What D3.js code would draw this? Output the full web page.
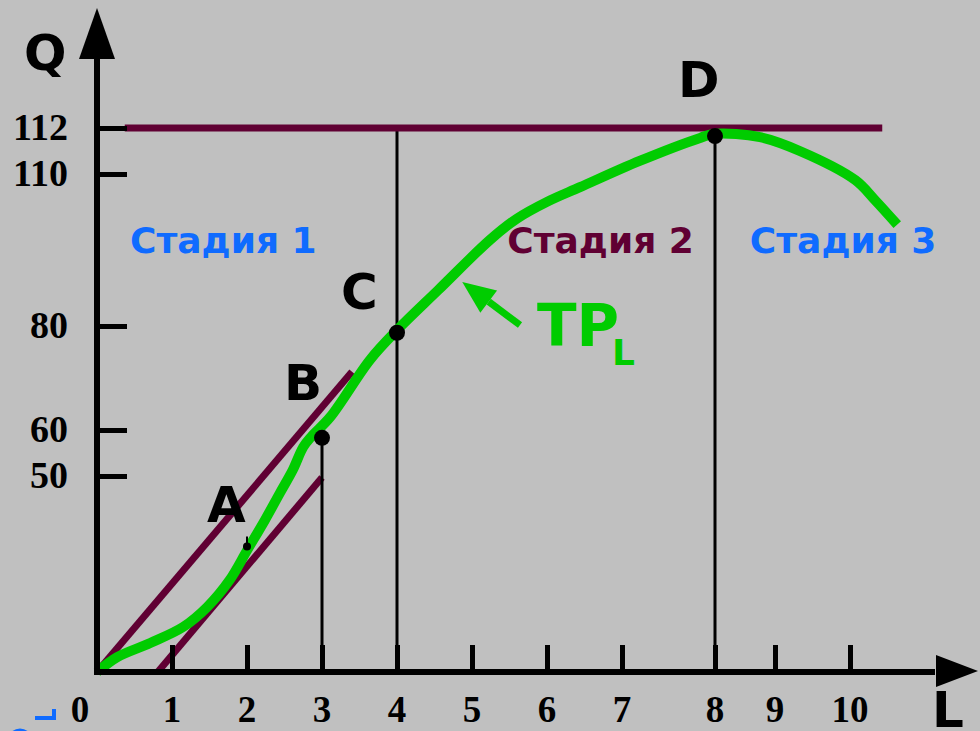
<!DOCTYPE html>
<html>
<head>
<meta charset="utf-8">
<script src="https://cdn.jsdelivr.net/npm/d3@7"></script>
<style>
  html, body { margin: 0; padding: 0; background: #c0c0c0; }
  svg { display: block; }
</style>
</head>
<body>
<div id="chart"></div>
<script>
// data
const xTicks = [0, 1, 2, 3, 4, 5, 6, 7, 8, 9, 10];
const yTicks = [50, 60, 80, 110, 112];
// total product curve TP_L (L, Q)
const tpL = [0, 0.27, 0.71, 1.15, 1.47, 1.77, 2, 2.24, 2.44, 2.61, 2.75, 2.86, 3.11, 3.64, 4, 4.55, 5.24, 5.6, 6.0, 6.44, 7.19, 7.84, 8, 8.75, 9.33, 10.07, 10.33, 10.63];
const tpQ = [0, 3.8, 7.4, 11.5, 16.6, 23.5, 31, 38.8, 45.7, 51.3, 56.3, 58.6, 62.5, 73.5, 79.2, 87.1, 97, 101.2, 104.5, 107.4, 110.57, 111.57, 111.75, 111.6, 111, 108.8, 104.9, 100];
const points = [
  { name: 'A', L: 2, Q: 32, r: 4 },
  { name: 'B', L: 3, Q: 58.3, r: 8 },
  { name: 'C', L: 4, Q: 78.7, r: 8 },
  { name: 'D', L: 8, Q: 111.65, r: 8 }
];
const tangents = [
  [[0, 0], [3.4, 71.2]],
  [[0.81, 0], [3, 49.6]]
];
const maxLine = { Q: 112, from: 0.37, to: 10.43 };
const dropLines = [
  { L: 3, Q: 58.3 },
  { L: 4, Q: 112 },
  { L: 8, Q: 112 }
];
const stages = [
  { text: 'Стадия 1', L: 0.44, color: '#0f6bff' },
  { text: 'Стадия 2', L: 5.47, color: '#600033' },
  { text: 'Стадия 3', L: 8.58, color: '#0f6bff' }
];

const width = 980, height = 731;
const purple = '#600033', green = '#00cc00';

const svg = d3.select('#chart').append('svg')
  .attr('width', width).attr('height', height);
svg.append('rect').attr('width', width).attr('height', height).attr('fill', '#c0c0c0');

// the axes in the picture are not evenly spaced
const x = d3.scaleLinear()
  .domain([0, 7, 8, 9, 10, 11])
  .range([97, 622, 715, 775, 850, 925]);
const y = d3.scaleLinear()
  .domain([0, 50, 60, 80, 110, 112])
  .range([672, 476, 430, 326, 174, 128]);

// tangent lines
tangents.forEach((t) => {
  svg.append('line')
    .attr('x1', x(t[0][0])).attr('y1', y(t[0][1]))
    .attr('x2', x(t[1][0])).attr('y2', y(t[1][1]))
    .attr('stroke', purple).attr('stroke-width', 7);
});

// drop lines
svg.selectAll('.drop').data(dropLines).enter().append('line')
  .attr('x1', (d) => x(d.L)).attr('x2', (d) => x(d.L))
  .attr('y1', y(0)).attr('y2', (d) => y(d.Q))
  .attr('stroke', '#000').attr('stroke-width', 3);

// max output line
svg.append('line')
  .attr('x1', x(maxLine.from)).attr('x2', x(maxLine.to))
  .attr('y1', y(maxLine.Q)).attr('y2', y(maxLine.Q))
  .attr('stroke', purple).attr('stroke-width', 7);

// TP curve
const line = d3.line()
  .x((d, i) => x(tpL[i]))
  .y((d, i) => y(tpQ[i]))
  .curve(d3.curveCatmullRom);
svg.append('path')
  .datum(tpL)
  .attr('d', line)
  .attr('fill', 'none')
  .attr('stroke', green)
  .attr('stroke-width', 10)
  .attr('stroke-linejoin', 'round');

// axes
const axisY = svg.append('g').attr('transform', `translate(${x(0)},0)`);
axisY.call(d3.axisRight(y).tickValues(yTicks).tickSize(30).tickFormat(''));
axisY.select('.domain').remove();
axisY.selectAll('.tick line').attr('stroke', '#000').attr('stroke-width', 5);
svg.append('line')
  .attr('x1', x(0)).attr('x2', x(0)).attr('y1', y(0) + 3).attr('y2', 50)
  .attr('stroke', '#000').attr('stroke-width', 6);
svg.append('path')
  .attr('d', `M${x(0)},8 L${x(0) + 18},59 L${x(0) - 18},59 Z`)
  .attr('fill', '#000');

const axisX = svg.append('g').attr('transform', `translate(0,${y(0)})`);
axisX.call(d3.axisTop(x).tickValues(xTicks.slice(1)).tickSize(27).tickFormat(''));
axisX.select('.domain').remove();
axisX.selectAll('.tick line').attr('stroke', '#000').attr('stroke-width', 5);
svg.append('line')
  .attr('x1', x(0) - 3).attr('x2', 935).attr('y1', y(0)).attr('y2', y(0))
  .attr('stroke', '#000').attr('stroke-width', 6);
svg.append('path')
  .attr('d', `M978,${y(0) - 1} L936,${y(0) - 17} L936,${y(0) + 15} Z`)
  .attr('fill', '#000');

// tick labels
svg.selectAll('.yl').data(yTicks).enter().append('text')
  .attr('x', 68).attr('y', (d) => y(d) + 12)
  .attr('text-anchor', 'end')
  .attr('font-family', 'Liberation Serif')
  .attr('font-weight', 'bold').attr('font-size', 38)
  .text((d) => d);
svg.selectAll('.xl').data(xTicks).enter().append('text')
  .attr('x', (d) => (d === 0 ? x(0) - 17 : x(d)))
  .attr('y', 722)
  .attr('text-anchor', 'middle')
  .attr('font-family', 'Liberation Serif')
  .attr('font-weight', 'bold').attr('font-size', 37)
  .text((d) => d);

// axis names
svg.append('text').attr('x', 24).attr('y', 70)
  .attr('font-family', 'DejaVu Sans').attr('font-weight', 'bold').attr('font-size', 50)
  .text('Q');
svg.append('text').attr('x', 932).attr('y', 727)
  .attr('font-family', 'DejaVu Sans').attr('font-weight', 'bold').attr('font-size', 50)
  .text('L');

// points
svg.selectAll('.pt').data(points).enter().append('circle')
  .attr('cx', (d) => x(d.L)).attr('cy', (d) => y(d.Q)).attr('r', (d) => d.r)
  .attr('fill', '#000');
svg.append('line')
  .attr('x1', x(2)).attr('x2', x(2)).attr('y1', y(32)).attr('y2', y(32) - 10)
  .attr('stroke', '#000').attr('stroke-width', 2);

const labelOffset = { A: [-40, -25], B: [-38, -38], C: [-56, -24], D: [-37, -39] };
svg.selectAll('.pl').data(points).enter().append('text')
  .attr('x', (d) => x(d.L) + labelOffset[d.name][0])
  .attr('y', (d) => y(d.Q) + labelOffset[d.name][1])
  .attr('font-family', 'DejaVu Sans').attr('font-weight', 'bold').attr('font-size', 50)
  .text((d) => d.name);

// stage labels
svg.selectAll('.st').data(stages).enter().append('text')
  .attr('x', (d) => x(d.L)).attr('y', 253)
  .attr('font-family', 'DejaVu Sans').attr('font-weight', 'bold').attr('font-size', 36)
  .attr('fill', (d) => d.color)
  .text((d) => d.text);

// TP_L label with arrow
const arrowFrom = [x(5.64), y(80.2)];
const arrowTip = [x(4.87), y(88.7)];
const ang = Math.atan2(arrowTip[1] - arrowFrom[1], arrowTip[0] - arrowFrom[0]);
const headLen = 33, headW = 14;
const bx = arrowTip[0] - headLen * Math.cos(ang), by = arrowTip[1] - headLen * Math.sin(ang);
svg.append('line')
  .attr('x1', arrowFrom[0]).attr('y1', arrowFrom[1]).attr('x2', bx).attr('y2', by)
  .attr('stroke', green).attr('stroke-width', 7);
svg.append('path')
  .attr('d', `M${arrowTip[0]},${arrowTip[1]} L${bx + headW * Math.sin(ang)},${by - headW * Math.cos(ang)} L${bx - headW * Math.sin(ang)},${by + headW * Math.cos(ang)} Z`)
  .attr('fill', green);
const tp = svg.append('text').attr('x', 537).attr('y', 346)
  .attr('font-family', 'DejaVu Sans').attr('font-weight', 'bold').attr('fill', green);
tp.append('tspan').attr('font-size', 58).text('TP');
tp.append('tspan').attr('font-size', 36).attr('dy', 19).attr('dx', -7).text('L');

// clipped blue mark at the bottom-left corner
svg.append('path').attr('d', 'M35,718 L54,718 L54,709')
  .attr('fill', 'none').attr('stroke', '#0f6bff').attr('stroke-width', 4);
svg.append('circle').attr('cx', 20).attr('cy', 741).attr('r', 10)
  .attr('fill', 'none').attr('stroke', '#0f6bff').attr('stroke-width', 5);
</script>
</body>
</html>
